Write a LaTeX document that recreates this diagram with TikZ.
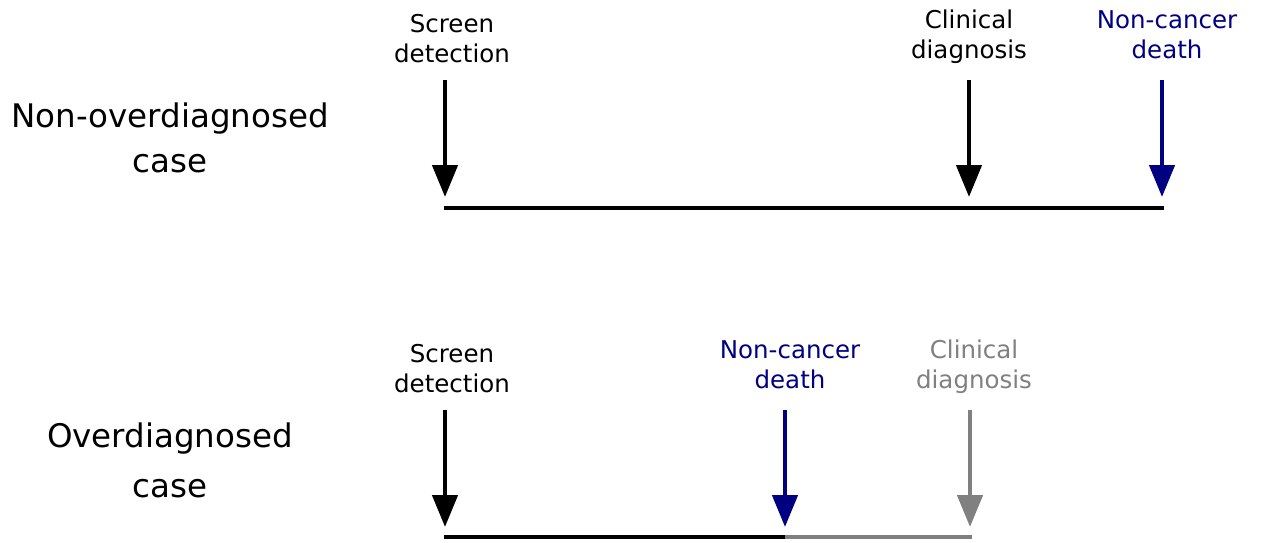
\documentclass[tikz,border=0pt]{standalone}
\usepackage{fontspec}
\setmainfont{DejaVu Sans}
\usetikzlibrary{arrows.meta}
\definecolor{deathblue}{RGB}{0,0,128}
\definecolor{fadegray}{RGB}{128,128,128}

\begin{document}
\begin{tikzpicture}[x=1pt,y=-1pt,
  event/.style={font=\fontsize{24.5}{30}\selectfont, align=center, anchor=base, inner sep=0pt},
  casetext/.style={align=center, anchor=base, inner sep=0pt},
  marker/.style={line width=4.5pt, -{Triangle[length=32pt,width=25pt]}},
  timeline/.style={line width=3.5pt}]
\useasboundingbox (0,0) rectangle (1261,542);

% Case labels (anchored at the baseline of the last line)
\node[casetext, font=\fontsize{32.5}{45}\selectfont] (lab1) at (170,172) {Non-overdiagnosed\\case};
\node[casetext, font=\fontsize{32.5}{50}\selectfont] (lab2) at (170,497) {Overdiagnosed\\case};

% Upper timeline: non-overdiagnosed case
\node[event] (scr1) at (452,62) {Screen\\detection};
\node[event] (cli1) at (969,58) {Clinical\\diagnosis};
\node[event, text=deathblue] (dth1) at (1167,58) {Non-cancer\\death};

\coordinate (scr1a) at (445,80);  \coordinate (scr1b) at (445,197);
\coordinate (cli1a) at (969,80);  \coordinate (cli1b) at (969,197);
\coordinate (dth1a) at (1162,80); \coordinate (dth1b) at (1162,197);
\coordinate (t1a) at (444,208);   \coordinate (t1b) at (1164,208);

\draw[timeline] (t1a) -- (t1b);
\draw[marker] (scr1a) -- (scr1b);
\draw[marker] (cli1a) -- (cli1b);
\draw[marker, deathblue] (dth1a) -- (dth1b);

% Lower timeline: overdiagnosed case
\node[event] (scr2) at (452,392) {Screen\\detection};
\node[event, text=deathblue] (dth2) at (790,388) {Non-cancer\\death};
\node[event, text=fadegray] (cli2) at (974,388) {Clinical\\diagnosis};

\coordinate (scr2a) at (445,410); \coordinate (scr2b) at (445,527);
\coordinate (dth2a) at (785,410); \coordinate (dth2b) at (785,527);
\coordinate (cli2a) at (970,410); \coordinate (cli2b) at (970,527);
\coordinate (t2a) at (444,537);   \coordinate (t2m) at (785,537);
\coordinate (t2b) at (972,537);

\draw[timeline] (t2a) -- (t2m);
\draw[timeline, fadegray] (t2m) -- (t2b);
\draw[marker] (scr2a) -- (scr2b);
\draw[marker, deathblue] (dth2a) -- (dth2b);
\draw[marker, fadegray] (cli2a) -- (cli2b);
\end{tikzpicture}
\end{document}
